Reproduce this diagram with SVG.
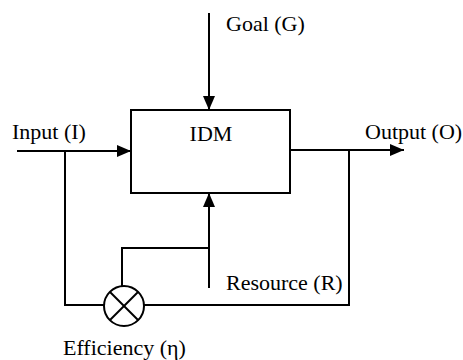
<svg xmlns="http://www.w3.org/2000/svg" width="463" height="360" viewBox="0 0 463 360">
<style>
.ln{fill:none;stroke:#000;stroke-width:2}
.t{font-family:"Liberation Serif","Times New Roman",serif;font-size:22px;fill:#000}
</style>
<defs>
<marker id="ah" viewBox="0 0 14 12" refX="14" refY="6" markerWidth="14" markerHeight="12" markerUnits="userSpaceOnUse" orient="auto">
<path d="M0,0 L14,6 L0,12 Z" fill="#000"/>
</marker>
</defs>
<rect width="463" height="360" fill="#fff"/>
<g id="connectors">
<line class="ln" x1="209" y1="13" x2="209" y2="110" marker-end="url(#ah)"/>
<line class="ln" x1="17" y1="151" x2="131" y2="151" marker-end="url(#ah)"/>
<line class="ln" x1="290" y1="150" x2="404" y2="150" marker-end="url(#ah)"/>
<line class="ln" x1="209" y1="288" x2="209" y2="193" marker-end="url(#ah)"/>
<polyline class="ln" points="65,151 65,305 104,305"/>
<polyline class="ln" points="144,305 349,305 349,150"/>
<polyline class="ln" points="209,248 122,248 122,286"/>
</g>
<g id="idm">
<rect class="ln" x="131" y="110" width="159" height="83"/>
<text class="t" x="211" y="141" text-anchor="middle">IDM</text>
</g>
<g id="efficiency">
<circle class="ln" cx="124" cy="306" r="20"/>
<line class="ln" x1="110" y1="292" x2="138" y2="320"/>
<line class="ln" x1="138" y1="292" x2="110" y2="320"/>
<text class="t" x="63" y="355">Efficiency (η)</text>
</g>
<g id="goal"><text class="t" x="226" y="31">Goal (G)</text></g>
<g id="input"><text class="t" x="12" y="139">Input (I)</text></g>
<g id="output"><text class="t" x="365" y="139">Output (O)</text></g>
<g id="resource"><text class="t" x="226" y="290">Resource (R)</text></g>
</svg>
